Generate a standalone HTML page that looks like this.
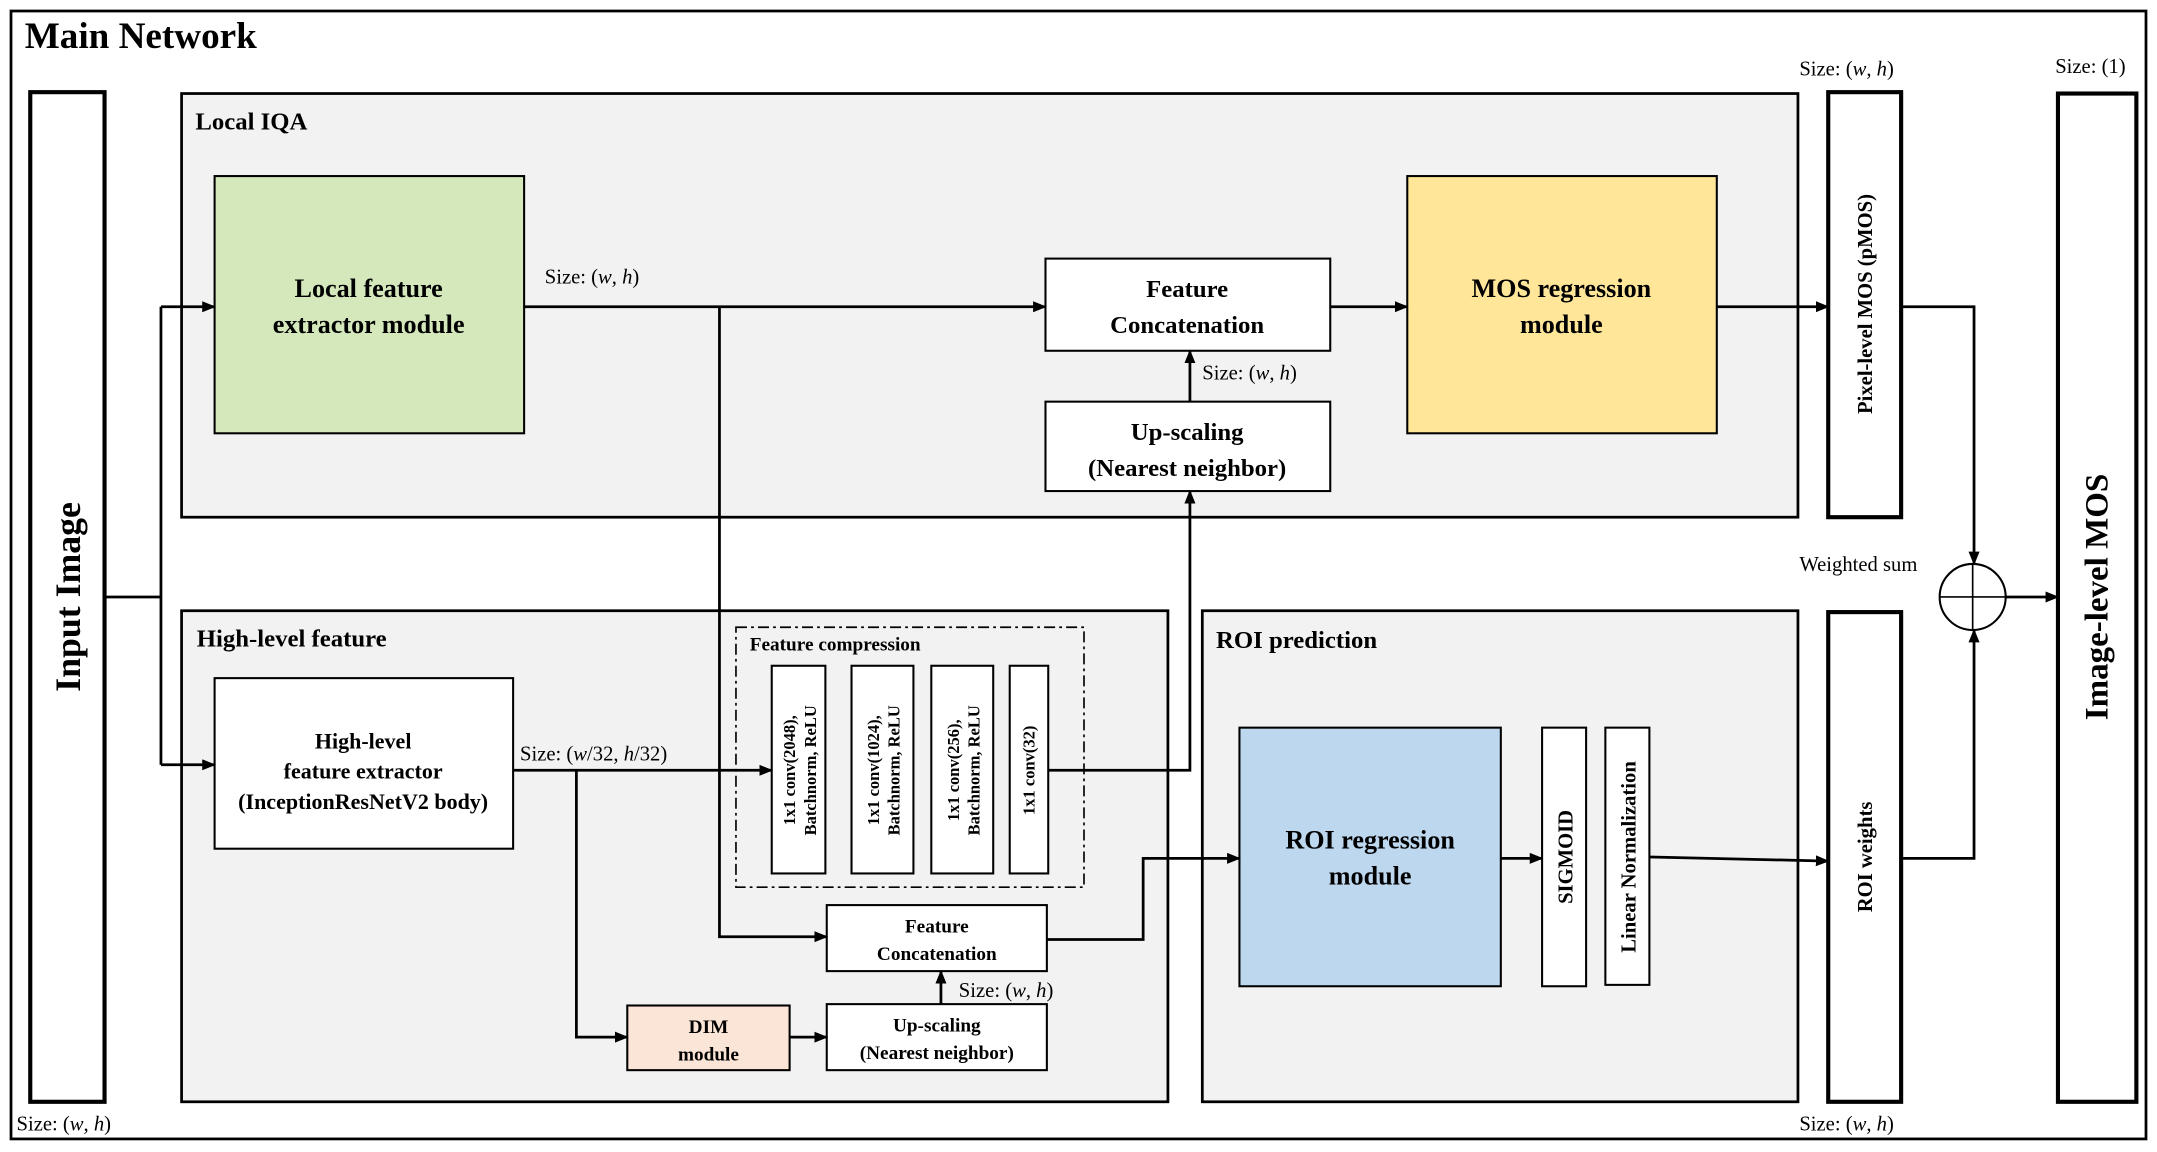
<!DOCTYPE html>
<html><head><meta charset="utf-8"><style>html,body{margin:0;padding:0;background:#fff}svg{display:block}text{font-family:"Liberation Serif",serif;fill:#000}</style></head>
<body>
<svg width="2157" height="1152" viewBox="0 0 1568 837.5" preserveAspectRatio="none" xmlns="http://www.w3.org/2000/svg">
<defs><marker id="a" markerWidth="10" markerHeight="8" refX="9" refY="4" orient="auto" markerUnits="userSpaceOnUse"><path d="M0,0 L10,4 L0,8z" fill="#000"/></marker></defs>
<rect x="0" y="0" width="1568" height="838" fill="#fff"/>
<rect x="8" y="8" width="1552" height="820" fill="none" stroke="#000" stroke-width="2"/>
<text x="18" y="35" font-size="27" font-weight="bold">Main Network</text>

<rect x="132" y="68" width="1175" height="308" fill="#f2f2f2" stroke="#000" stroke-width="2"/>
<text x="142" y="94" font-size="18" font-weight="bold">Local IQA</text>
<rect x="132" y="444" width="717" height="357" fill="#f2f2f2" stroke="#000" stroke-width="2"/>
<text x="143" y="470" font-size="18" font-weight="bold">High-level feature</text>
<rect x="874" y="444" width="433" height="357" fill="#f2f2f2" stroke="#000" stroke-width="2"/>
<text x="884" y="471" font-size="18" font-weight="bold">ROI prediction</text>

<rect x="22" y="67" width="54" height="734" fill="#fff" stroke="#000" stroke-width="3"/>
<text transform="translate(58,434) rotate(-90)" text-anchor="middle" font-size="26" font-weight="bold">Input Image</text>
<text x="12" y="822" font-size="15">Size: (<tspan font-style="italic">w</tspan>, <tspan font-style="italic">h</tspan>)</text>
<rect x="1329" y="67" width="53" height="309" fill="#fff" stroke="#000" stroke-width="3"/>
<text transform="translate(1361,221) rotate(-90)" text-anchor="middle" font-size="15" font-weight="bold">Pixel-level MOS (pMOS)</text>
<text x="1308" y="55" font-size="15">Size: (<tspan font-style="italic">w</tspan>, <tspan font-style="italic">h</tspan>)</text>
<rect x="1496" y="68" width="57" height="733" fill="#fff" stroke="#000" stroke-width="3"/>
<text transform="translate(1532,434) rotate(-90)" text-anchor="middle" font-size="24" font-weight="bold">Image-level MOS</text>
<text x="1494" y="53" font-size="15">Size: (1)</text>
<rect x="1329" y="445" width="53" height="356" fill="#fff" stroke="#000" stroke-width="3"/>
<text transform="translate(1361,623) rotate(-90)" text-anchor="middle" font-size="15" font-weight="bold">ROI weights</text>
<text x="1308" y="822" font-size="15">Size: (<tspan font-style="italic">w</tspan>, <tspan font-style="italic">h</tspan>)</text>

<rect x="156" y="128" width="225" height="187" fill="#d5e8bb" stroke="#000" stroke-width="1.5"/>
<text x="268" y="216" text-anchor="middle" font-size="19" font-weight="bold">Local feature</text>
<text x="268" y="242" text-anchor="middle" font-size="19" font-weight="bold">extractor module</text>
<text x="396" y="206" font-size="15">Size: (<tspan font-style="italic">w</tspan>, <tspan font-style="italic">h</tspan>)</text>
<rect x="760" y="188" width="207" height="67" fill="#fff" stroke="#000" stroke-width="1.5"/>
<text x="863" y="216" text-anchor="middle" font-size="18" font-weight="bold">Feature</text>
<text x="863" y="242" text-anchor="middle" font-size="18" font-weight="bold">Concatenation</text>
<rect x="760" y="292" width="207" height="65" fill="#fff" stroke="#000" stroke-width="1.5"/>
<text x="863" y="320" text-anchor="middle" font-size="18" font-weight="bold">Up-scaling</text>
<text x="863" y="346" text-anchor="middle" font-size="18" font-weight="bold">(Nearest neighbor)</text>
<text x="874" y="276" font-size="15">Size: (<tspan font-style="italic">w</tspan>, <tspan font-style="italic">h</tspan>)</text>
<rect x="1023" y="128" width="225" height="187" fill="#ffe699" stroke="#000" stroke-width="1.5"/>
<text x="1135" y="216" text-anchor="middle" font-size="19" font-weight="bold">MOS regression</text>
<text x="1135" y="242" text-anchor="middle" font-size="19" font-weight="bold">module</text>

<rect x="156" y="493" width="217" height="124" fill="#fff" stroke="#000" stroke-width="1.5"/>
<text x="264" y="544" text-anchor="middle" font-size="16" font-weight="bold">High-level</text>
<text x="264" y="566" text-anchor="middle" font-size="16" font-weight="bold">feature extractor</text>
<text x="264" y="588" text-anchor="middle" font-size="16" font-weight="bold">(InceptionResNetV2 body)</text>
<text x="378" y="553" font-size="15">Size: (<tspan font-style="italic">w</tspan>/32, <tspan font-style="italic">h</tspan>/32)</text>
<rect x="535" y="456" width="253" height="189" fill="none" stroke="#000" stroke-width="1.2" stroke-dasharray="8,3,2,3"/>
<text x="545" y="473" font-size="14" font-weight="bold">Feature compression</text>
<rect x="561" y="484" width="39" height="151" fill="#fff" stroke="#000" stroke-width="1.5"/>
<text transform="translate(578,560) rotate(-90)" text-anchor="middle" font-size="12" font-weight="bold">1x1 conv(2048),</text>
<text transform="translate(593,560) rotate(-90)" text-anchor="middle" font-size="12" font-weight="bold">Batchnorm, ReLU</text>
<rect x="619" y="484" width="45" height="151" fill="#fff" stroke="#000" stroke-width="1.5"/>
<text transform="translate(639,560) rotate(-90)" text-anchor="middle" font-size="12" font-weight="bold">1x1 conv(1024),</text>
<text transform="translate(654,560) rotate(-90)" text-anchor="middle" font-size="12" font-weight="bold">Batchnorm, ReLU</text>
<rect x="677" y="484" width="45" height="151" fill="#fff" stroke="#000" stroke-width="1.5"/>
<text transform="translate(697,560) rotate(-90)" text-anchor="middle" font-size="12" font-weight="bold">1x1 conv(256),</text>
<text transform="translate(712,560) rotate(-90)" text-anchor="middle" font-size="12" font-weight="bold">Batchnorm, ReLU</text>
<rect x="734" y="484" width="28" height="151" fill="#fff" stroke="#000" stroke-width="1.5"/>
<text transform="translate(752,560) rotate(-90)" text-anchor="middle" font-size="12" font-weight="bold">1x1 conv(32)</text>
<rect x="601" y="658" width="160" height="48" fill="#fff" stroke="#000" stroke-width="1.5"/>
<text x="681" y="678" text-anchor="middle" font-size="14" font-weight="bold">Feature</text>
<text x="681" y="698" text-anchor="middle" font-size="14" font-weight="bold">Concatenation</text>
<text x="697" y="725" font-size="15">Size: (<tspan font-style="italic">w</tspan>, <tspan font-style="italic">h</tspan>)</text>
<rect x="601" y="730" width="160" height="48" fill="#fff" stroke="#000" stroke-width="1.5"/>
<text x="681" y="750" text-anchor="middle" font-size="14" font-weight="bold">Up-scaling</text>
<text x="681" y="770" text-anchor="middle" font-size="14" font-weight="bold">(Nearest neighbor)</text>
<rect x="456" y="731" width="118" height="47" fill="#fbe5d6" stroke="#000" stroke-width="1.5"/>
<text x="515" y="751" text-anchor="middle" font-size="14" font-weight="bold">DIM</text>
<text x="515" y="771" text-anchor="middle" font-size="14" font-weight="bold">module</text>

<rect x="901" y="529" width="190" height="188" fill="#bdd7ee" stroke="#000" stroke-width="1.5"/>
<text x="996" y="617" text-anchor="middle" font-size="19" font-weight="bold">ROI regression</text>
<text x="996" y="643" text-anchor="middle" font-size="19" font-weight="bold">module</text>
<rect x="1121" y="529" width="32" height="188" fill="#fff" stroke="#000" stroke-width="1.5"/>
<text transform="translate(1143,623) rotate(-90)" text-anchor="middle" font-size="15" font-weight="bold">SIGMOID</text>
<rect x="1167" y="529" width="32" height="187" fill="#fff" stroke="#000" stroke-width="1.5"/>
<text transform="translate(1189,623) rotate(-90)" text-anchor="middle" font-size="15" font-weight="bold">Linear Normalization</text>

<circle cx="1434" cy="434" r="24" fill="#fff" stroke="#000" stroke-width="1.5"/>
<path d="M1410,434 H1458 M1434,410 V458" stroke="#000" stroke-width="1.2"/>
<text x="1308" y="415" font-size="15">Weighted sum</text>

<g fill="none" stroke="#000" stroke-width="2">
<path d="M76,434 H117 M117,223 V556"/>
<path d="M117,223 H156" marker-end="url(#a)"/>
<path d="M117,556 H156" marker-end="url(#a)"/>
<path d="M381,223 H760" marker-end="url(#a)"/>
<path d="M523,223 V681 H601" marker-end="url(#a)"/>
<path d="M967,223 H1023" marker-end="url(#a)"/>
<path d="M1248,223 H1329" marker-end="url(#a)"/>
<path d="M865,292 V255" marker-end="url(#a)"/>
<path d="M762,560 H865 V357" marker-end="url(#a)"/>
<path d="M373,560 H561" marker-end="url(#a)"/>
<path d="M419,560 V754 H456" marker-end="url(#a)"/>
<path d="M574,754 H601" marker-end="url(#a)"/>
<path d="M684,730 V706" marker-end="url(#a)"/>
<path d="M761,683 H831 V624 H901" marker-end="url(#a)"/>
<path d="M1091,624 H1121" marker-end="url(#a)"/>
<path d="M1199,623 L1329,626" marker-end="url(#a)"/>
<path d="M1382,223 H1435 V410" marker-end="url(#a)"/>
<path d="M1382,624 H1435 V458" marker-end="url(#a)"/>
<path d="M1458,434 H1496" marker-end="url(#a)"/>
</g>
</svg>
</body></html>
